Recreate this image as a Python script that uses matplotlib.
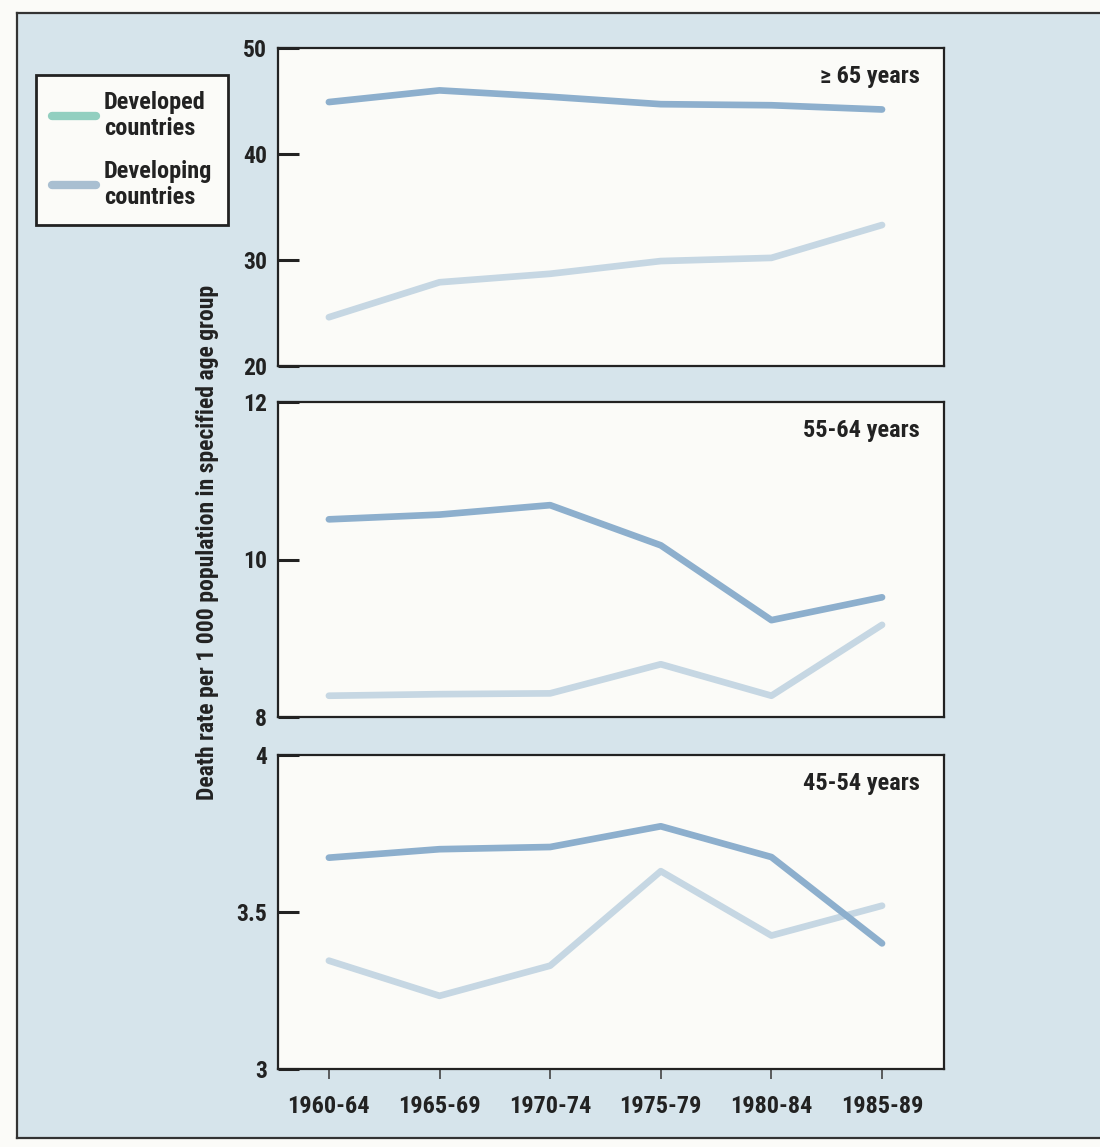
import numpy as np
import matplotlib as mpl
mpl.use('Agg')
import matplotlib.pyplot as plt
from matplotlib.lines import Line2D
from matplotlib import font_manager

periods = ["1960-64", "1965-69", "1970-74", "1975-79", "1980-84", "1985-89"]

# >= 65 years
old_developed = [44.9, 46.0, 45.4, 44.7, 44.6, 44.2]
old_developing = [24.6, 27.9, 28.7, 29.9, 30.2, 33.3]
# 55-64 years
mid_developed = [10.51, 10.57, 10.69, 10.18, 9.23, 9.52]
mid_developing = [8.27, 8.29, 8.30, 8.67, 8.27, 9.17]
# 45-54 years
young_developed = [3.673, 3.70, 3.707, 3.773, 3.675, 3.40]
young_developing = [3.345, 3.233, 3.329, 3.63, 3.425, 3.52]

panel_labels = ["\u2265 65 years", "55-64 years", "45-54 years"]
panel_ylims = [(20, 50), (8, 12), (3, 4)]
panel_ticks = [[20, 30, 40, 50], [8, 10, 12], [3, 3.5, 4]]
panel_ticklabels = [["20", "30", "40", "50"], ["8", "10", "12"], ["3", "3.5", "4"]]

# pick a narrow font if one is there
fam = "DejaVu Sans"
for f in ["Roboto Condensed", "Liberation Sans Narrow", "DejaVu Sans Condensed"]:
    try:
        font_manager.findfont(f, fallback_to_default=False)
        fam = f
        break
    except Exception:
        pass
plt.rcParams["font.family"] = [fam, "DejaVu Sans"]
plt.rcParams["font.weight"] = "bold"

W, H = 1100, 1147
fig = plt.figure(figsize=(W / 100, H / 100), dpi=100)
fig.patch.set_facecolor("#fbfbf8")

# scanned page background with the outer frame
bg = fig.add_axes([17 / W, 1 - 1138 / H, 1 - 17 / W, (1138 - 13) / H])
bg.set_facecolor("#d6e4eb")
bg.set_xticks([])
bg.set_yticks([])
bg.spines["right"].set_visible(False)
for s in ["left", "top", "bottom"]:
    bg.spines[s].set_linewidth(1.6)
    bg.spines[s].set_color("#333333")

dev_color = "#8dafcd"
devl_color = "#c6d7e3"

tops = [48, 402, 755]
bots = [366, 717, 1069]
left, right = 278, 944
data = [(old_developed, old_developing), (mid_developed, mid_developing),
        (young_developed, young_developing)]

x = np.arange(len(periods))
for i in range(3):
    ax = fig.add_axes([left / W, 1 - bots[i] / H, (right - left) / W, (bots[i] - tops[i]) / H])
    ax.set_facecolor("#fbfbf8")
    d1, d2 = data[i]
    ax.plot(x, d2, color=devl_color, lw=4.8, solid_capstyle="round", solid_joinstyle="round")
    ax.plot(x, d1, color=dev_color, lw=4.8, solid_capstyle="round", solid_joinstyle="round")
    ax.set_xlim(-0.46, 5.56)
    ax.set_ylim(*panel_ylims[i])
    ax.set_yticks(panel_ticks[i])
    ax.set_yticklabels(panel_ticklabels[i], fontsize=17, fontweight="bold", color="#222222")
    ax.tick_params(axis="y", direction="in", length=15, width=2.2, pad=8, color="#222222")
    for s in ax.spines.values():
        s.set_linewidth(1.6)
        s.set_color("#222222")
    ax.text(0.964, 0.91, panel_labels[i], transform=ax.transAxes, ha="right", va="center",
            fontsize=17.5, fontweight="bold", color="#222222")
    if i < 2:
        ax.set_xticks([])
    else:
        ax.set_xticks(x)
        ax.set_xticklabels(periods, fontsize=17.5, fontweight="bold", color="#222222")
        ax.tick_params(axis="x", direction="out", length=7, width=1.2, pad=12, color="#444444")

fig.text(208 / W, 1 - 542 / H, "Death rate per 1 000 population in specified age group",
         rotation=90, ha="center", va="center", fontsize=17, fontweight="bold", color="#222222")

handles = [Line2D([0], [0], color="#92cfc0", lw=6, solid_capstyle="round"),
           Line2D([0], [0], color="#a9bfd1", lw=6, solid_capstyle="round")]
leg = fig.legend(handles, ["Developed\ncountries", "Developing\ncountries"],
                 loc="upper left", bbox_to_anchor=(36 / W, 1 - 75 / H),
                 fontsize=17.5, frameon=True, fancybox=False, handlelength=1.8,
                 labelspacing=0.8, borderpad=0.65, borderaxespad=0, handletextpad=0.35)
leg.get_frame().set_edgecolor("#222222")
leg.get_frame().set_linewidth(2)
leg.get_frame().set_facecolor("#fbfbf8")
leg.get_frame().set_alpha(1)
for t in leg.get_texts():
    t.set_fontweight("bold")
    t.set_color("#222222")

plt.savefig("out.png", dpi=100, facecolor=fig.get_facecolor())
